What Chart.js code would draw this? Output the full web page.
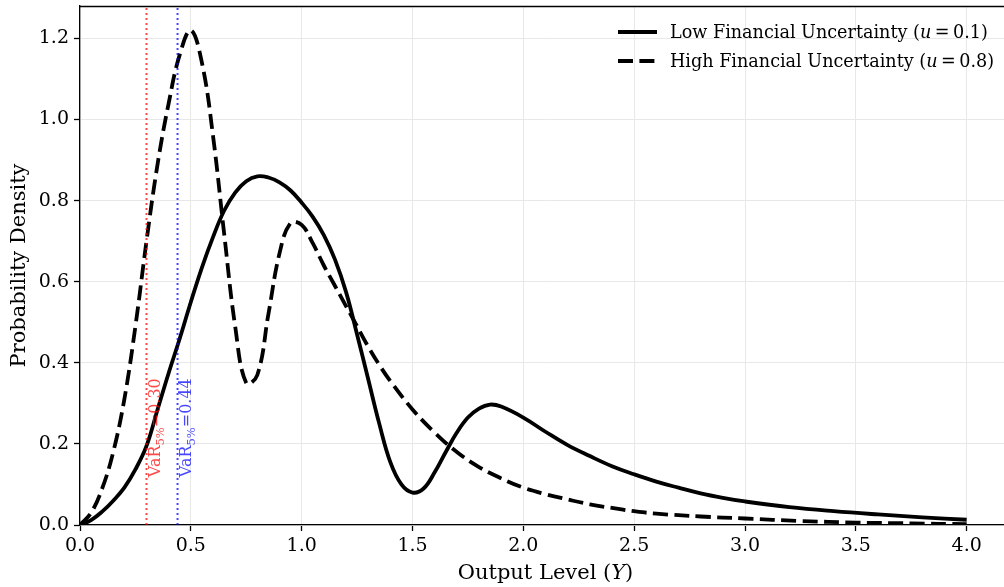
<!DOCTYPE html>
<html><head><meta charset="utf-8">
<script src="https://cdn.jsdelivr.net/npm/chart.js@4.4.1/dist/chart.umd.min.js"></script>
<style>
html,body{margin:0;padding:0;background:#fff;overflow:hidden;width:1004px;height:587px}
#wrap{position:relative;width:1012px;height:587px}
</style>
</head><body><div id="wrap"><canvas id="c" width="1012" height="587"></canvas></div>
<script>
// ---- data ----
const lowX  = [0,0.05,0.1,0.15,0.2,0.25,0.3,0.35,0.4,0.45,0.5,0.55,0.6,0.65,0.7,0.75,0.8,0.85,0.9,0.95,1.0,1.05,1.1,1.15,1.2,1.25,1.3,1.35,1.4,1.45,1.5,1.55,1.6,1.65,1.7,1.75,1.8,1.85,1.9,2.0,2.1,2.2,2.3,2.4,2.5,2.6,2.7,2.8,2.9,3.0,3.2,3.4,3.6,3.8,4.0];
const lowY  = [0,0.012,0.033,0.06,0.092,0.137,0.195,0.285,0.375,0.46,0.55,0.635,0.71,0.775,0.82,0.848,0.86,0.857,0.845,0.825,0.795,0.76,0.715,0.655,0.575,0.47,0.36,0.25,0.155,0.10,0.08,0.09,0.13,0.18,0.228,0.265,0.287,0.297,0.292,0.265,0.23,0.197,0.17,0.145,0.125,0.107,0.092,0.078,0.067,0.058,0.044,0.034,0.026,0.019,0.013];
const highX = [0,0.05,0.1,0.15,0.2,0.25,0.3,0.35,0.4,0.45,0.5,0.55,0.6,0.65,0.7,0.75,0.8,0.85,0.9,0.95,1.0,1.05,1.1,1.15,1.2,1.25,1.3,1.35,1.4,1.5,1.6,1.7,1.8,1.9,2.0,2.1,2.2,2.3,2.4,2.5,2.6,2.8,3.0,3.25,3.5,3.75,4.0];
const highY = [0,0.03,0.09,0.18,0.31,0.49,0.70,0.89,1.04,1.16,1.22,1.14,0.96,0.72,0.49,0.35,0.37,0.52,0.67,0.745,0.74,0.695,0.64,0.59,0.54,0.49,0.44,0.395,0.355,0.285,0.228,0.18,0.143,0.115,0.092,0.076,0.063,0.051,0.042,0.034,0.028,0.021,0.016,0.010,0.006,0.004,0.002];
const varValues = [0.30, 0.44];
const varColors = ['rgba(255,0,0,0.72)', 'rgba(0,0,255,0.72)'];
const varLabels = ['0.30', '0.44'];
const xTickLabels = ['0.0','0.5','1.0','1.5','2.0','2.5','3.0','3.5','4.0'];
const yTickLabels = ['0.0','0.2','0.4','0.6','0.8','1.0','1.2'];
const seriesNames = ['Low Financial Uncertainty', 'High Financial Uncertainty'];
const seriesU = ['0.1', '0.8'];

const FF = '"DejaVu Serif", serif';
const toPts = (xs, ys) => xs.map((x, i) => ({x, y: ys[i]}));

function drawRich(ctx, x, y, parts, size) {
  let cx = x;
  for (const p of parts) {
    ctx.font = (p.i ? 'italic ' : '') + (p.s || size) + 'px ' + FF;
    ctx.fillText(p.t, cx, y + (p.dy || 0));
    cx += ctx.measureText(p.t).width;
  }
  return cx;
}

const datasets = [];
varValues.forEach((v, i) => {
  datasets.push({data: [{x: v, y: 0}, {x: v, y: 1.28}], borderColor: varColors[i], borderWidth: 2,
    borderDash: [2, 3], pointRadius: 0, order: 0, tension: 0});
});
datasets.push({data: toPts(lowX, lowY), borderColor: '#000', borderWidth: 3.8, pointRadius: 0,
  tension: 0.4, order: 2, borderCapStyle: 'butt', borderJoinStyle: 'round'});
datasets.push({data: toPts(highX, highY), borderColor: '#000', borderWidth: 3.8, pointRadius: 0,
  borderDash: [15, 6.4], tension: 0.4, order: 1, borderCapStyle: 'butt', borderJoinStyle: 'round'});

const overlay = {
  id: 'overlay',
  afterDatasetsDraw(chart) {
    const ctx = chart.ctx, ca = chart.chartArea, xs = chart.scales.x, ys = chart.scales.y;
    ctx.save();
    // top spine
    ctx.strokeStyle = '#000'; ctx.lineWidth = 1.3;
    ctx.beginPath(); ctx.moveTo(ca.left, ca.top + 0.5); ctx.lineTo(ca.right, ca.top + 0.5); ctx.stroke();
    // VaR labels
    ctx.textBaseline = 'alphabetic'; ctx.textAlign = 'left';
    varValues.forEach((v, i) => {
      const px = xs.getPixelForValue(v) + 13.5;
      const py = ys.getPixelForValue(0.118);
      ctx.save();
      ctx.translate(px, py); ctx.rotate(-Math.PI / 2);
      ctx.fillStyle = varColors[i];
      drawRich(ctx, 0, 0, [{t: 'VaR'}, {t: '5%', s: 11.5, dy: 3.5}, {t: '=' + varLabels[i]}], 16);
      ctx.restore();
    });
    // legend
    ctx.fillStyle = '#000'; ctx.strokeStyle = '#000'; ctx.lineWidth = 3.8;
    const lx0 = 618, lx1 = 657, rows = [32, 61];
    rows.forEach((ry, i) => {
      ctx.setLineDash(i === 0 ? [] : [15, 6.4]);
      ctx.beginPath(); ctx.moveTo(lx0, ry); ctx.lineTo(lx1, ry); ctx.stroke();
      ctx.setLineDash([]);
      ctx.textBaseline = 'middle';
      drawRich(ctx, 670, ry + 1, [{t: seriesNames[i] + ' ('}, {t: 'u', i: true}, {t: '\u2009=\u2009' + seriesU[i] + ')'}], 17.6);
    });
    // axis titles
    ctx.fillStyle = '#000'; ctx.textBaseline = 'middle';
    const t1 = 'Output Level (', t2 = 'Y', t3 = ')';
    ctx.font = '21px ' + FF; const w1 = ctx.measureText(t1).width, w3 = ctx.measureText(t3).width;
    ctx.font = 'italic 21px ' + FF; const w2 = ctx.measureText(t2).width;
    const cx = (ca.left + ca.right) / 2 - (w1 + w2 + w3) / 2;
    drawRich(ctx, cx, 574, [{t: t1}, {t: t2, i: true}, {t: t3}], 21);
    ctx.save();
    ctx.translate(20, (ca.top + ca.bottom) / 2); ctx.rotate(-Math.PI / 2);
    ctx.textAlign = 'center'; ctx.font = '21px ' + FF;
    ctx.fillText('Probability Density', 0, 0);
    ctx.restore();
    ctx.restore();
  }
};

new Chart(document.getElementById('c'), {
  type: 'line',
  data: {datasets},
  options: {
    responsive: false, animation: false, devicePixelRatio: 1,
    layout: {padding: {top: 6, right: 1, left: 0, bottom: 0}},
    plugins: {legend: {display: false}, tooltip: {enabled: false}},
    elements: {line: {fill: false}},
    scales: {
      x: {
        type: 'linear', min: 0, max: 4.2,
        afterBuildTicks: s => { s.ticks = xTickLabels.map(t => ({value: parseFloat(t)})); },
        afterFit: s => { s.height = 62; s.paddingLeft = 0; s.paddingRight = 0; },
        ticks: {callback: (v) => v.toFixed(1), font: {family: FF, size: 19}, color: '#000', padding: 4, maxRotation: 0, autoSkip: false},
        grid: {color: '#e8e8e8', lineWidth: 1, tickLength: 6, tickColor: '#000', tickWidth: 1.3},
        border: {color: '#000', width: 1.3}
      },
      y: {
        type: 'linear', min: 0, max: 1.28,
        afterBuildTicks: s => { s.ticks = yTickLabels.map(t => ({value: parseFloat(t)})); },
        afterFit: s => { s.width = 80; s.paddingTop = 0; s.paddingBottom = 0; },
        ticks: {callback: (v) => v.toFixed(1), font: {family: FF, size: 19}, color: '#000', padding: 5, autoSkip: false},
        grid: {color: '#e8e8e8', lineWidth: 1, tickLength: 6, tickColor: '#000', tickWidth: 1.3},
        border: {color: '#000', width: 1.3}
      }
    }
  },
  plugins: [overlay]
});
</script>
</body></html>
